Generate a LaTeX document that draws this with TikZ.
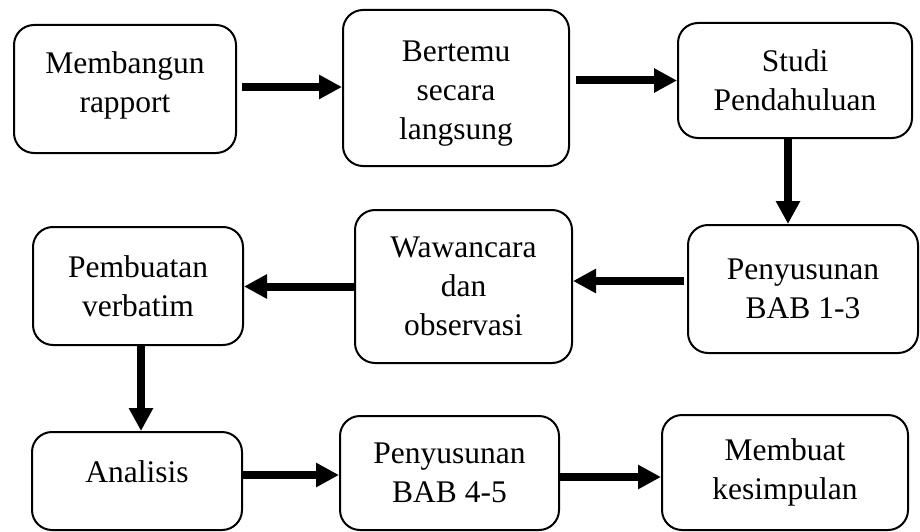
\documentclass[tikz,border=0pt]{standalone}
\usepackage{fontspec}
\setmainfont{Liberation Serif}
\usetikzlibrary{arrows.meta}
\tikzset{
  box/.style={draw=black, line width=2pt, rounded corners=20pt, fill=white,
    align=center, inner sep=0pt,
    font=\fontsize{31.5}{39}\selectfont},
  arr/.style={line width=8pt, -{Triangle[length=23pt,width=23pt]}}
}
\newcommand{\shiftlines}[2]{\raisebox{#1}[\height][\depth]{\begin{tabular}{@{}c@{}}#2\end{tabular}}}
\begin{document}
\begin{tikzpicture}[x=1pt,y=-1pt]
\useasboundingbox[fill=white] (0,0) rectangle (920,532);
\node[box, minimum width=222pt, minimum height=128pt] (b1) at (125,89) {\shiftlines{4pt}{Membangun\\rapport}};
\node[box, minimum width=226pt, minimum height=156pt] (b2) at (456,88) {\shiftlines{-5pt}{Bertemu\\secara\\langsung}};
\node[box, minimum width=234pt, minimum height=115pt] (b3) at (795,80.5) {Studi\\Pendahuluan};
\node[box, minimum width=230pt, minimum height=128pt] (b4) at (803,289) {Penyusunan\\BAB 1-3};
\node[box, minimum width=217pt, minimum height=153pt] (b5) at (463.5,286.5) {Wawancara\\dan\\observasi};
\node[box, minimum width=210pt, minimum height=118pt] (b6) at (138,286) {Pembuatan\\verbatim};
\node[box, minimum width=210pt, minimum height=98pt] (b7) at (137,481) {\shiftlines{6pt}{Analisis}};
\node[box, minimum width=219pt, minimum height=114pt] (b8) at (449.5,473) {Penyusunan\\BAB 4-5};
\node[box, minimum width=246pt, minimum height=115pt] (b9) at (785,472.5) {Membuat\\kesimpulan};

\draw[arr] ([xshift=5pt,yshift=2pt]b1.east) -- ([yshift=2pt]b1.east -| b2.west);
\draw[arr] ([xshift=6pt]b2.east |- b3.west) -- (b3.west);
\draw[arr] ([xshift=-7pt]b3.south) -- ([xshift=-7pt]b3.south |- b4.north);
\draw[arr] ([xshift=-3pt,yshift=8pt]b4.west) -- ([yshift=8pt]b4.west -| b5.east);
\draw[arr] (b5.west) -- (b5.west -| b6.east);
\draw[arr] ([xshift=3pt]b6.south) -- ([xshift=3pt]b6.south |- b7.north);
\draw[arr] ([yshift=6pt]b7.east) -- ([yshift=6pt]b7.east -| b8.west);
\draw[arr] ([yshift=-4pt]b8.east) -- ([yshift=-4pt]b8.east -| b9.west);
\end{tikzpicture}
\end{document}
